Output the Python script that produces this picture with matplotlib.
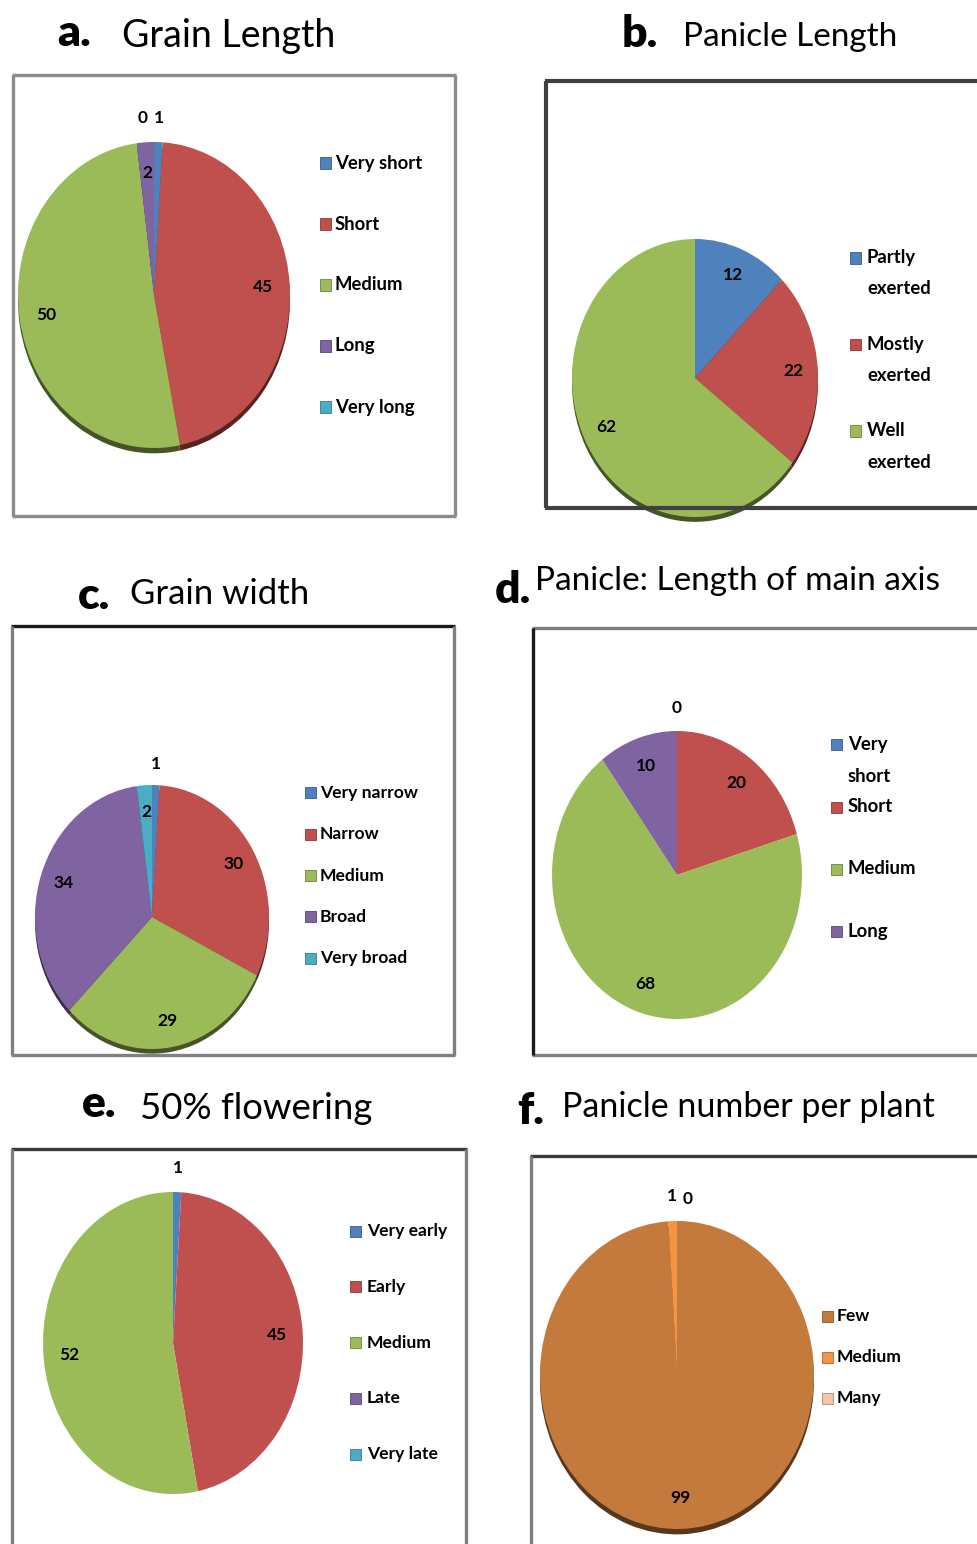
import numpy as np
import matplotlib.pyplot as plt
from matplotlib.colors import to_rgb
from matplotlib.lines import Line2D

W, H = 978, 1544

# Excel-like palette
BLUE = '#4F81BD'
RED = '#C0504D'
GREEN = '#9BBB59'
PURPLE = '#8064A2'
CYAN = '#4BACC6'
FEW = '#C47A3C'
MED_OR = '#F59443'
MANY = '#F9C3A6'

# a. Grain length
grain_len_cats = ['Very short', 'Short', 'Medium', 'Long', 'Very long']
grain_len_vals = [1, 45, 50, 2, 0]

# b. Panicle length
pan_len_cats = ['Partly\nexerted', 'Mostly\nexerted', 'Well\nexerted']
pan_len_vals = [12, 22, 62]

# c. Grain width
grain_wid_cats = ['Very narrow', 'Narrow', 'Medium', 'Broad', 'Very broad']
grain_wid_vals = [1, 30, 29, 34, 2]

# d. Panicle: length of main axis
axis_cats = ['Very\nshort', 'Short', 'Medium', 'Long']
axis_vals = [0, 20, 68, 10]

# e. 50% flowering
flower_cats = ['Very early', 'Early', 'Medium', 'Late', 'Very late']
flower_vals = [1, 45, 52, 0, 0]

# f. Panicle number per plant
pnum_cats = ['Few', 'Medium', 'Many']
pnum_vals = [99, 1, 0]

FONT = 'Lato'

fig = plt.figure(figsize=(W / 100, H / 100), dpi=100)
fig.patch.set_facecolor('white')


def fx(x):
    return x / W


def fy(y):
    return 1 - y / H


def darken(c, f=0.5):
    r, g, b = to_rgb(c)
    return (r * f, g * f, b * f)


def frame(sides, lw=2.4):
    # sides: list of (x0, y0, x1, y1, color) in pixels
    for x0, y0, x1, y1, col in sides:
        fig.add_artist(Line2D([fx(x0), fx(x1)], [fy(y0), fy(y1)],
                              color=col, lw=lw, solid_capstyle='butt', zorder=5))


def title(letter, lx, ly, text, tx, ty, lsize=32, tsize=27):
    fig.text(fx(lx), fy(ly), letter, fontsize=lsize, fontweight='heavy',
             family=FONT, ha='left', va='baseline')
    fig.text(fx(tx), fy(ty), text, fontsize=tsize, family=FONT,
             ha='left', va='baseline')


def pie(vals, colors, cx, cy, rx, ry, shadow=True, show_zero=True):
    m = 1.35
    ax = fig.add_axes([fx(cx - m * rx), fy(cy + m * ry),
                       2 * m * rx / W, 2 * m * ry / H])
    if shadow:
        ax.pie(vals, colors=[darken(c, 0.45) for c in colors], startangle=90,
               counterclock=False, center=(0, -0.035),
               wedgeprops=dict(linewidth=0))
    wedges, _ = ax.pie(vals, colors=colors, startangle=90, counterclock=False,
                       wedgeprops=dict(linewidth=0))
    ax.set_xlim(-m, m)
    ax.set_ylim(-m, m)
    ax.set_aspect('auto')
    ax.axis('off')

    # data labels: inside for big slices, above the pie for tiny ones
    pos = []
    for w, v in zip(wedges, vals):
        mid = np.deg2rad((w.theta1 + w.theta2) / 2)
        r = 1.16 if v <= 1 else 0.8
        pos.append((np.cos(mid) * r, np.sin(mid) * r, v))
    outside = [p for p in pos if p[2] <= 1 and p[2] > 0]
    for x, y, v in pos:
        if v == 0 and not show_zero:
            continue
        dx = dy = 0
        if v == 0 and outside:
            dx = -8 if outside[0][0] >= 0 else 8
            dy = -2 if dx > 0 else 0
        ax.annotate(str(v), (x, y), xytext=(dx, dy), textcoords='offset points',
                    ha='center', va='center', fontsize=12.5, fontweight='bold',
                    family=FONT, color='black')
    return ax


def legend(cats, colors, sx, tx, y0, step, line=31, size=13.3, box=11):
    y = y0
    for cat, col in zip(cats, colors):
        fig.add_artist(plt.Rectangle((fx(sx), fy(y + box / 2)), box / W, box / H,
                                     transform=fig.transFigure, facecolor=col,
                                     edgecolor=darken(col, 0.7), lw=0.6))
        for k, part in enumerate(cat.split('\n')):
            fig.text(fx(tx), fy(y + k * line), part, fontsize=size, family=FONT,
                     fontweight='bold', ha='left', va='center', color='black')
        y += step


# ---- a. Grain Length
title('a.', 57, 46, 'Grain Length', 122, 47)
frame([(12, 75, 456, 75, '#8C8C8C'), (12, 516, 456, 516, '#8C8C8C'),
       (13, 75, 13, 516, '#8C8C8C'), (455, 75, 455, 516, '#8C8C8C')])
cols5 = [BLUE, RED, GREEN, PURPLE, CYAN]
pie(grain_len_vals, cols5, 154, 295, 136, 153)
legend(grain_len_cats, cols5, 320, 335, 163, 61)

# ---- b. Panicle Length
title('b.', 622, 47, 'Panicle Length', 683, 46, tsize=24)
pie(pan_len_vals, [BLUE, RED, GREEN], 695, 378, 123, 139)
frame([(545, 81, 980, 81, '#404040'), (545, 508, 980, 508, '#404040'),
       (546, 81, 546, 508, '#404040')], lw=3)
legend(pan_len_cats, [BLUE, RED, GREEN], 850, 867, 258, 86.5)

# ---- c. Grain width
title('c.', 78, 609, 'Grain width', 130, 604, tsize=25)
frame([(11, 626, 455, 626, '#1A1A1A'), (11, 1055, 455, 1055, '#808080'),
       (12, 626, 12, 1055, '#808080'), (454, 626, 454, 1055, '#808080')])
pie(grain_wid_vals, cols5, 152, 917, 117, 132)
legend(grain_wid_cats, cols5, 305, 320, 793, 41.3, size=12.6)

# ---- d. Panicle: Length of main axis
title('d.', 495, 603, 'Panicle: Length of main axis', 535, 590, tsize=24)
frame([(532, 628, 980, 628, '#808080'), (532, 1055, 980, 1055, '#808080'),
       (533, 628, 533, 1055, '#1A1A1A')])
pie(axis_vals, [BLUE, RED, GREEN, PURPLE], 677, 875, 125, 144, shadow=False)
legend(axis_cats, [BLUE, RED, GREEN, PURPLE], 831, 848, 745, 62)

# ---- e. 50% flowering
title('e.', 82, 1117, '50% flowering', 140, 1119, tsize=26.3)
frame([(11, 1149, 467, 1149, '#3A3A3A'), (12, 1149, 12, 1550, '#808080'),
       (466, 1149, 466, 1550, '#808080')])
pie(flower_vals, cols5, 173, 1343, 130, 151, shadow=False, show_zero=False)
legend(flower_cats, cols5, 350, 367, 1231, 55.8, size=12.6)

# ---- f. Panicle number per plant
title('f.', 517, 1124, 'Panicle number per plant', 562, 1117, tsize=24.5)
frame([(530, 1156, 980, 1156, '#3A3A3A'), (531, 1156, 531, 1550, '#808080')])
pie(pnum_vals, [FEW, MED_OR, MANY], 677, 1375, 137, 154)
legend(pnum_cats, [FEW, MED_OR, MANY], 822, 837, 1316, 41, size=12.6)

fig.savefig('out.png', dpi=100)
